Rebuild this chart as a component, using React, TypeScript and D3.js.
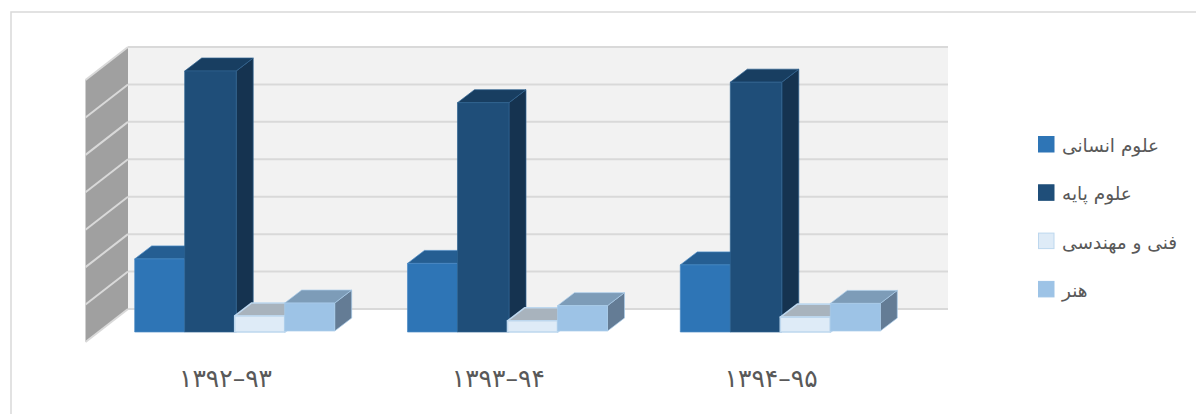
import React from "react";
import * as d3 from "d3";

const categories = ["۱۳۹۲–۹۳", "۱۳۹۳–۹۴", "۱۳۹۴–۹۵"];
const seriesNames = ["علوم انسانی", "علوم پایه", "فنی و مهندسی", "هنر"];
const humanities = [19.6, 18.4, 18];
const basicSciences = [70, 61.5, 67];
const engineering = [4.3, 3, 4];
const art = [7.5, 6.8, 7.4];
const seriesValues = [humanities, basicSciences, engineering, art];
const gridValues = [0, 10, 20, 30, 40, 50, 60, 70];
const frontColors = ["#2e75b6", "#1f4e79", "#deebf7", "#9dc3e6"];
const topColors = ["#255e92", "#183e61", "#a8b3bd", "#7d9cb8"];
const sideColors = ["#1c4669", "#153350", "#8a97a3", "#647c95"];
const edgeColors = ["#4a8ac4", "#2f6390", "#bdd7ee", "#a9cbe9"];

const W = 1196, H = 414;
const baseY = 332;
const y = d3.scaleLinear().domain([0, 70]).range([baseY, 71]);
const gridY = d3.scaleLinear().domain([0, 70]).range([309, 47]);
const groupX = d3.scaleBand<number>().domain([0, 1, 2]).range([98.5, 916.9]);
const barX = d3.scaleBand<number>().domain([0, 1, 2, 3]).range([134.7, 334.7]);
const dX = 17, dY = -13;
const wall = { x0: 128, x1: 948, dx: -42.5, dy: 33 };

function App() {
  const shift = (g: number) => (groupX(g) as number) - (groupX(0) as number);
  return (
    <svg width={W} height={H} style={{ position: "absolute", left: 0, top: 0 }}>
      <rect x={0} y={0} width={W} height={H} fill="#fff" />
      <rect x={11} y={12} width={1190} height={410} fill="#fff" stroke="#d9d9d9" strokeWidth={1.5} />
      <rect x={wall.x0} y={47} width={wall.x1 - wall.x0} height={262} fill="#f2f2f2" />
      <polygon
        points={`${wall.x0},47 ${wall.x0},309 ${wall.x0 + wall.dx},${309 + wall.dy} ${wall.x0 + wall.dx},${47 + wall.dy}`}
        fill="#a0a0a0"
      />
      {gridValues.map((v) => (
        <g key={v} stroke="#d9d9d9" strokeWidth={2} fill="none">
          <line x1={wall.x0} x2={wall.x1} y1={gridY(v)} y2={gridY(v)} />
          <line x1={wall.x0} x2={wall.x0 + wall.dx} y1={gridY(v)} y2={gridY(v) + wall.dy} />
        </g>
      ))}
      {categories.map((c, g) => (
        <g key={c} transform={`translate(${shift(g)},0)`}>
          {[0, 1, 2, 3].map((s) => {
            const x0 = barX(s) as number;
            const w = barX.bandwidth();
            const base = s === 3 ? baseY - 1 : baseY;
            const top = y(seriesValues[s][g]) - (s === 3 ? 1 : 0);
            const x1 = x0 + w + (s === 1 ? 1.5 : 0);
            return (
              <g key={s} stroke={edgeColors[s]} strokeWidth={s === 2 ? 1.6 : 0.7} strokeLinejoin="round">
                <polygon points={`${x1},${top} ${x1 + dX},${top + dY} ${x1 + dX},${base + dY} ${x1},${base}`} fill={sideColors[s]} />
                <polygon points={`${x0},${top} ${x0 + dX},${top + dY} ${x1 + dX},${top + dY} ${x1},${top}`} fill={topColors[s]} />
                <rect x={x0} y={top} width={x1 - x0} height={base - top} fill={frontColors[s]} />
              </g>
            );
          })}
          <text x={225.5} y={387} textAnchor="middle" direction="ltr" fontFamily="DejaVu Sans" fontSize={25} fill="#595959">
            {c}
          </text>
        </g>
      ))}
      {seriesNames.map((n, i) => (
        <g key={n}>
          <rect
            x={1038.5}
            y={136.5 + i * 48.3}
            width={15.5}
            height={15.5}
            fill={frontColors[i]}
            stroke={i === 2 ? "#bdd7ee" : frontColors[i]}
          />
          <text x={1062} y={152 + i * 48.3} textAnchor="start" fontFamily="DejaVu Sans" fontSize={18.5} fill="#595959">
            {n}
          </text>
        </g>
      ))}
    </svg>
  );
}

export default App;
